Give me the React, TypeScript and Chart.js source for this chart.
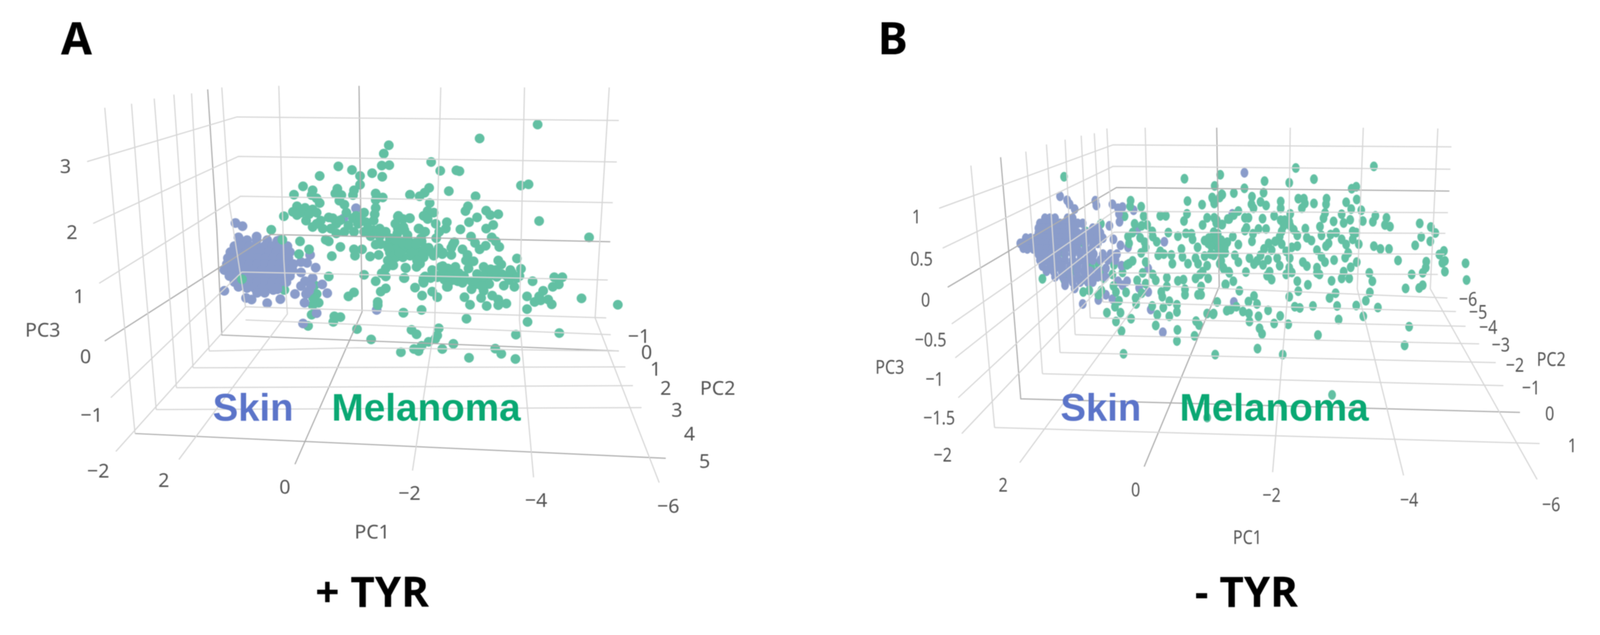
import React, { useEffect, useRef } from "react";
import { Chart, registerables } from "chart.js";

Chart.register(...registerables);

type P = [number, number];

// Panel A, projected view coordinates (view plane 0..1568 on both axes)
const melanomaA: P[] = [
[1056,300],[941,335],[845,394],[863,416],[895,415],[901,417],[1023,453],[1038,450],[1059,542],[1158,583],[1015,636],[1023,662],[1046,693],[1089,683],[1105,683],[1098,701],[1086,707],[1067,717],[1059,731],[1050,745],[1062,741],[1077,739],[1084,751],[1143,736],[1215,752],[1035,731],[1035,763],[1036,795],[1099,823],[1013,827],[915,787],[889,850],[1010,707],[989,704],[972,862],[984,875],[1012,888],[920,885],
[936,675],[945,680],[955,672],[965,678],[975,682],[985,675],[995,680],[1005,672],[1015,685],[1002,665],[978,641],[984,651],[949,657],[963,663],[973,665],[943,693],[932,701],[925,713],[949,717],[944,735],[966,729],[978,739],[994,749],[978,753],[955,755],[922,752],[911,733],
[830,685],[844,685],[857,683],[871,689],[885,691],[898,693],[912,689],[925,693],[830,697],[876,707],[847,665],[864,657],[878,661],[893,657],[867,673],[885,673],[896,677],[813,709],[827,729],[847,719],[857,733],[792,685],[795,660],[790,772],[826,765],[806,815],[816,826],[860,811],[857,829],[840,845],[826,855],[811,863],[785,871],[867,863],[820,868],[853,838],
[841,459],[832,471],[822,480],[803,476],[880,467],[933,480],[918,505],[913,517],[954,516],[962,527],[978,525],[936,533],[920,545],[968,552],[954,561],[903,563],[924,581],[932,597],[941,613],[953,604],[965,583],[973,593],[980,607],[907,613],[917,627],[914,641],[929,643],[919,661],[891,595],[885,609],[885,627],[867,625],[850,629],[842,497],[838,517],[830,529],[850,521],[838,537],[779,531],[789,537],[803,535],[854,549],[876,545],[874,561],[861,569],[855,585],[820,561],[832,569],
[779,561],[792,565],[772,585],[785,593],[799,589],[813,597],[826,593],[840,609],[775,613],[789,613],[803,613],[816,613],[830,617],[775,633],[789,633],[803,629],[816,633],[830,633],[823,649],[816,657],[768,653],
[761,352],[751,373],[747,403],[762,402],[728,422],[748,431],[704,429],[704,451],[688,414],[661,405],[624,429],[591,455],[573,476],[610,465],[608,477],[618,485],[624,497],[659,461],[655,473],[667,477],[663,491],[673,501],[692,465],[690,477],[735,473],[749,483],[735,489],[735,509],[733,525],
[553,530],[528,564],[579,505],[595,509],[610,513],[571,519],[587,521],[603,525],[618,521],[579,527],[597,541],[610,557],[626,541],[642,533],[657,549],[630,561],[646,561],[618,549],[677,521],[696,529],[712,521],[681,553],[700,549],[716,545],[673,569],[692,569],[712,569],[657,573],[642,593],[636,589],[665,607],[648,630],[692,613],[708,613],[694,629],
[731,541],[743,561],[731,565],[755,569],[743,581],[763,585],[735,601],[724,631],[741,627],[780,529],[802,535],[774,549],[790,557],[778,573],[798,577],[821,561],[833,569],[825,585],[759,601],[774,601],[794,605],[813,601],[833,609],[763,621],[782,621],[806,621],[829,625],[817,641],[759,641],[770,653],[755,661],[888,601],[868,621],[852,625],[747,673],[755,681],[735,693],[755,711],[745,719],[794,659],[791,685],[712,677],[642,681],[868,655],[900,673],[833,681],[852,677],[872,681],[895,691],[829,693],[907,697],[878,707],
[739,753],[585,593],[603,613],[583,625],[550,589],[470,688],[681,731],[692,721],[665,783],[653,781],[651,795],[698,813],[726,839],[739,745],[790,772],
[650,535],[665,540],[690,535],[705,535],[720,560],[725,580],[745,600],[760,610],[775,590],[790,600],[800,600],[815,600],[845,620],[860,610],[880,680],[910,680],[950,690],[960,700],[935,690],[945,705],[1000,690],[1020,680]
];
const skinA: P[] = [
[457,547],[471,555],[463,583],[499,581],[435,717],[463,707],[478,735],[489,739],[520,748],[546,738],[575,725],[639,723],[629,701],[616,659],[587,671],[605,627],[599,647],[587,645],[594,747],[618,773],[591,799],[737,765],[696,510],[671,536],[610,685],[595,693],[587,705],[607,705],[597,725],[603,717],[540,713],[532,715],
[465,590],[480,590],[499,590],[520,590],[540,592],[545,590],
[455,605],[470,605],[485,605],[500,605],[515,605],[530,605],[545,605],[560,605],
[447,620],[462,620],[478,620],[493,620],[508,620],[523,620],[538,620],[553,620],[565,620],
[442,635],[457,635],[472,635],[487,635],[502,635],[517,635],[532,635],[547,635],[562,635],
[440,650],[455,650],[470,650],[485,650],[500,650],[515,650],[530,650],[545,650],[560,650],[572,650],
[435,665],[450,665],[465,665],[480,665],[495,665],[510,665],[525,665],[540,665],[555,665],[570,665],
[445,680],[460,680],[475,680],[490,680],[505,680],[520,680],[535,680],[550,680],[565,680],
[455,695],[470,695],[485,695],[500,695],[515,695],[530,695],[545,695],[558,695],
[480,710],[495,710],[510,710],[525,710],[540,710],[500,722],[515,722]
];
const melanomaOverSkinA: P[] = [
[556,637],[554,715],[614,703],[618,725],[622,747],[610,753],[608,777],[601,805],[611,735]
];

// Panel B, same kind of view coordinates
const melanomaB: P[] = [
[1128,405],[973,409],[823,426],[1009,437],[911,442],[960,446],[812,454],[871,460],[1093,456],[1084,461],[909,471],[850,472],[826,475],[822,483],[886,481],[885,500],[889,510],[808,486],[811,498],[903,494],[914,503],[943,493],[943,510],[978,486],[989,486],[991,498],[985,510],[1009,498],[1034,486],[1033,500],[1073,495],[1094,488],[1083,512],[1103,515],[962,524],[1031,522],[1028,535],[1064,525],[859,517],[850,527],[841,537],[872,534],[879,534],[907,536],[930,529],[943,540],[951,540],[960,544],[949,554],[945,568],[962,554],[969,564],[976,578],[941,581],[932,593],[945,600],[1048,543],[1081,539],[1068,547],[1106,542],[1131,529],[1126,544],[1153,534],[1150,552],[1160,556],[1219,548],[1241,557],[1250,572],[1222,582],[1240,593],[1210,603],[1267,617],[1258,626],[1269,642],[1264,647],[1269,669],[1310,648],[1312,690],[1232,644],[1231,659],[1225,672],[1203,676],[1191,711],[1225,703],[1218,710],[1176,641],[1158,612],[1128,605],[1141,612],
[815,547],[826,551],[811,534],[875,559],[872,566],[899,562],[914,562],[888,574],[886,593],[815,581],[808,595],[822,598],[815,605],[837,595],[848,581],[859,601],[830,611],[833,622],[804,625],[810,628],[852,628],[859,645],[881,635],[890,650],[910,612],[919,598],[925,615],[903,628],[918,639],[908,652],[896,642],[936,635],[941,654],[965,608],[976,605],[954,618],[961,635],[960,659],[954,676],[965,671],[992,561],[995,584],[1004,591],[1021,556],[1024,578],[1042,576],[1053,571],[1064,588],[1073,601],[1038,598],[1033,605],[1015,615],[1024,632],[1031,645],[1086,568],[1093,571],[1086,588],[1098,600],[1077,622],[1071,634],[1049,640],[1094,645],[1082,658],[987,645],[995,655],[1015,659],[1015,672],[1020,676],[1068,669],[1064,686],[1079,686],[1119,672],[1125,693],[1044,692],[976,693],[997,702],[978,718],[960,732],[1052,723],[1040,735],[1120,721],[1112,742],[1136,759],[1093,754],[1055,755],[1007,755],[971,757],[981,760],[1107,781],[1058,789],[1017,828],[1198,807],[1189,854],[918,766],[942,780],[930,799],[958,801],[901,811],[906,825],[897,862],[890,730],[896,750],[899,781],[879,744],[880,774],[881,794],[868,769],[855,757],[844,764],[836,767],[817,745],[809,776],[861,717],[833,701],[849,693],[874,670],[921,669],[916,679],[925,689],[822,649],[830,662],[841,672],[797,1035],[1045,978],[947,877],[813,877],
[513,431],[752,436],[645,491],[644,505],[666,506],[671,530],[758,492],[787,501],[807,483],[812,496],[827,476],[704,529],[715,529],[757,524],[751,542],[797,534],[788,552],[816,540],[827,551],[838,537],[653,549],[667,554],[678,552],[688,568],[689,581],[720,571],[739,580],[755,573],[766,574],[768,588],[649,571],[640,581],[642,598],[664,584],[697,594],[673,595],[675,608],[666,622],[704,618],[700,628],[711,625],[746,612],[726,627],[778,608],[792,591],[807,584],[818,574],[799,598],[818,598],[832,608],[792,630],[748,632],[759,649],[774,635],[779,649],[728,649],[797,654],[788,669],[774,686],[783,676],[799,686],[825,642],[829,659],[840,669],[649,642],[638,652],[675,645],[669,672],[689,676],[675,699],[695,691],[658,691],[717,684],[739,692],[750,689],[717,706],[706,720],[708,732],[753,713],[753,727],[785,706],[785,727],[779,727],[834,701],[797,774],[810,774],[838,765],[722,743],[737,752],[737,770],[710,759],[688,755],[698,777],[722,781],[695,804],[738,815],[772,830],[737,843],[775,793],[781,803],[631,875],[667,723],[655,735],[656,750],[646,787],[627,818],[616,794],[598,772],[625,772],[636,721],[622,742],[614,757],[611,705],[616,720],[581,727],[587,716],[551,720],[563,716],[470,687],
[810,570],[800,585],[815,590],[825,590],[805,605],[820,612],[825,625]
];
const skinB: P[] = [
[871,421],[850,745],[847,524],[505,480],[519,490],[524,500],[534,512],[575,491],[577,503],[609,500],[620,510],[629,507],[623,544],[622,524],[651,515],[603,554],[658,564],[712,594],[680,661],[662,710],[680,720],[685,764],[709,821],[550,750],[596,661],[627,654],[640,608],[625,603],[611,588],[534,711],[581,740],[596,727],[609,738],[629,703],[638,693],[620,693],
[475,535],[485,535],[495,535],[520,535],[530,535],
[465,548],[475,548],[485,548],[495,548],[505,548],[515,548],[525,548],[540,548],[550,548],
[462,560],[472,560],[482,560],[492,560],[502,560],[512,560],[522,560],[532,560],[570,560],[580,560],
[462,572],[472,572],[482,572],[492,572],[502,572],[512,572],[525,572],[540,572],[552,572],[562,572],[575,572],[585,572],
[437,585],[447,585],[457,585],[467,585],[477,585],[487,585],[497,585],[507,585],[517,585],[527,585],[537,585],[550,585],[565,585],[578,585],[590,585],
[426,598],[430,598],[440,598],[450,598],[460,598],[470,598],[480,598],[490,598],[500,598],[510,598],[520,598],[530,598],[540,598],[555,598],[570,598],[580,598],
[432,610],[440,612],[452,612],[465,612],[478,612],[490,612],[502,612],[515,612],[528,612],[540,612],[555,612],[568,612],
[462,625],[475,625],[488,625],[500,625],[515,625],[530,625],[545,625],[560,625],[572,625],[590,625],[605,625],[618,625],
[465,640],[478,640],[490,640],[502,640],[515,640],[530,640],[545,640],[558,640],[570,640],[585,640],[600,640],[615,640],
[470,655],[485,655],[498,655],[510,655],[525,655],[540,655],[555,655],
[478,668],[492,668],[508,668],[522,668],[538,668],[552,668],[565,668],[580,668],
[495,682],[510,682],[525,682],[540,682],[555,682],[568,682],[580,682],[595,682],
[515,695],[530,695],[545,695],[560,695],[570,695],[515,703]
];
const melanomaOverSkinB: P[] = [
[586,549],[633,530],[530,570],[556,568],[568,579],[518,593],[551,596],[513,623],[557,644],[567,659],[581,650],[495,659],[512,674],[513,689],[530,661],[537,669],[552,688],[590,669],[592,686],[612,652],[609,676],[629,671],[642,649]
];

// Box grid of the 3D scene as seen in each panel
const gridLightA: P[][] = [
[[163,393],[460,281],[1217,290]],[[175,548],[463,380],[1213,394]],[[187,698],[467,480],[1205,496]],[[210,985],[470,670],[1195,690]],[[220,1120],[477,757],[1192,785]],
[[373,910],[1230,908]],[[340,960],[1245,955]],[[300,1015],[1262,1010]],
[[477,790],[1201,827]],[[405,868],[700,860],[1217,868]],
[[198,258],[228,690],[258,1075]],[[251,248],[275,650],[300,1015]],[[296,235],[320,620],[340,960]],[[335,225],[355,600],[373,910]],[[370,222],[385,580],[405,868]],[[430,207],[445,500],[477,757]],
[[543,203],[553,640],[560,775],[345,1140]],[[864,207],[852,800],[808,1168]],[[1030,207],[1020,790],[1048,1185]],[[1198,207],[1170,785],[1297,1198]]
];
const gridDarkA: P[][] = [
[[198,843],[527,576],[1200,594]],[[402,212],[420,560],[430,828],[1217,868]],[[702,203],[708,770],[575,1152]],[[258,1075],[1310,1137]]
];
const gridLightB: P[][] = [
[[265,510],[610,351],[1282,356]],[[272,610],[610,405],[1280,412]],[[290,800],[612,518],[1275,521]],[[297,885],[612,570],[1270,573]],[[303,985],[612,622],[1268,625]],[[310,1075],[612,672],[1255,676]],
[[605,700],[1274,735]],[[590,745],[1291,769]],[[565,785],[1310,806]],[[535,827],[1337,850]],[[505,872],[1370,897]],[[470,925],[1385,955]],[[375,1060],[1457,1100]],
[[328,403],[352,730],[375,1060]],[[437,368],[455,650],[470,925]],[[478,350],[492,610],[505,872]],[[515,338],[525,590],[535,827]],[[547,328],[556,560],[565,785]],[[573,322],[582,530],[590,745]],[[598,310],[605,500],[612,700]],
[[674,308],[682,706],[425,1148]],[[962,308],[958,710],[927,1172]],[[1107,308],[1095,712],[1187,1180]],[[1255,310],[1240,712],[1452,1190]]
];
const gridDarkB: P[][] = [
[[282,708],[617,458],[1278,467]],[[387,382],[408,690],[427,988],[1418,1022]],[[816,308],[821,706],[672,1158]]
];

// Tick and title texts: [text, view x, view y]
type L = [string, number, number];
const ticksA: L[] = [
["3",120,408],["2",133,573],["1",147,734],["0",160,885],["−1",172,1032],["−2",185,1172],["PC3",75,818],
["2",315,1195],["0",555,1212],["−2",802,1227],["−4",1053,1245],["−6",1315,1260],["PC1",728,1324],
["−1",1257,834],["0",1272,874],["1",1290,916],["2",1310,964],["3",1332,1019],["4",1357,1079],["5",1387,1147],["PC2",1413,964]
];
const ticksB: L[] = [
["1",220,534],["0.5",230,640],["0",238,743],["−0.5",248,843],["−1",256,941],["−1.5",265,1038],["−2",272,1131],["PC3",167,911],
["2",392,1207],["0",655,1219],["−2",925,1232],["−4",1198,1244],["−6",1480,1256],["PC1",877,1338],
["−6",1315,741],["−5",1335,773],["−4",1355,811],["−3",1380,855],["−2",1408,906],["−1",1440,963],["0",1477,1028],["1",1522,1108],["PC2",1480,891]
];

const GREEN = "#62c0a3";
const BLUE = "#8a9cca";

function dot(rx: number, ry: number, color: string) {
  const c = document.createElement("canvas");
  c.width = Math.ceil(rx * 2) + 2;
  c.height = Math.ceil(ry * 2) + 2;
  const g = c.getContext("2d")!;
  g.fillStyle = color;
  g.beginPath();
  g.ellipse(c.width / 2, c.height / 2, rx, ry, 0, 0, Math.PI * 2);
  g.fill();
  return c;
}
const xy = (a: P[]) => a.map(([x, y]) => ({ x, y }));

type Panel = {
  melanoma: P[]; skin: P[]; over: P[]; light: P[][]; dark: P[][]; ticks: L[];
  rx: number; ry: number; tickStretch: number;
  letter: L; caption: L; skinAt: L; melAt: L;
};

const panelA: Panel = {
  melanoma: melanomaA, skin: skinA, over: melanomaOverSkinA, light: gridLightA, dark: gridDarkA, ticks: ticksA,
  rx: 12.5, ry: 12.5, tickStretch: 1,
  letter: ["A", 142, 92], caption: ["+ TYR", 728, 1480], skinAt: ["Skin", 492, 1016], melAt: ["Melanoma", 835, 1016],
};
const panelB: Panel = {
  melanoma: melanomaB, skin: skinB, over: melanomaOverSkinB, light: gridLightB, dark: gridDarkB, ticks: ticksB,
  rx: 10, ry: 12.5, tickStretch: 0.82,
  letter: ["B", 173, 92], caption: ["- TYR", 875, 1480], skinAt: ["Skin", 586, 1016], melAt: ["Melanoma", 930, 1016],
};

function PanelChart({ panel, width }: { panel: Panel; width: number }) {
  const ref = useRef<HTMLCanvasElement>(null);
  useEffect(() => {
    document.body.style.margin = "0";
    const lineSet = (pts: P[], color: string, w: number) => ({
      type: "line" as const, data: xy(pts), borderColor: color, borderWidth: w,
      pointRadius: 0, showLine: true, fill: false, tension: 0,
    });
    const pointSet = (pts: P[], color: string) => ({
      type: "scatter" as const, data: xy(pts), backgroundColor: color, borderWidth: 0,
      pointStyle: dot(panel.rx, panel.ry, color), pointRadius: panel.ry,
    });
    const textPlugin = {
      id: "panelText",
      afterDatasetsDraw(chart: any) {
        const { ctx, scales } = chart;
        const put = (l: L, font: string, color: string, stretch = 1) => {
          ctx.save();
          ctx.translate(scales.x.getPixelForValue(l[1]), scales.y.getPixelForValue(l[2]));
          ctx.scale(stretch, 1);
          ctx.font = font;
          ctx.fillStyle = color;
          ctx.textAlign = "center";
          ctx.textBaseline = "middle";
          ctx.fillText(l[0], 0, 0);
          ctx.restore();
        };
        panel.ticks.forEach((t) => put(t, '50px "Noto Sans"', "#555555", panel.tickStretch));
        put(panel.skinAt, 'bold 98px "Liberation Sans"', "#5b74c9");
        put(panel.melAt, 'bold 99px "Liberation Sans"', "#0aa873");
        put(panel.letter, 'bold 115px "Noto Sans"', "#000000");
        put(panel.caption, 'bold 108px "Open Sans"', "#000000");
      },
    };
    const chart = new Chart(ref.current!, {
      type: "scatter",
      data: {
        datasets: [
          ...panel.light.map((l) => lineSet(l, "#d6d6d6", 3)),
          ...panel.dark.map((l) => lineSet(l, "#adadad", 3)),
          pointSet(panel.melanoma, GREEN),
          pointSet(panel.skin, BLUE),
          pointSet(panel.over, GREEN),
        ] as any,
      },
      options: {
        responsive: false,
        animation: false,
        devicePixelRatio: 1,
        layout: { padding: 0 },
        plugins: { legend: { display: false }, tooltip: { enabled: false } },
        scales: {
          x: { type: "linear", min: 0, max: 1568, display: false },
          y: { type: "linear", min: 0, max: 1568, reverse: true, display: false },
        },
      },
      plugins: [textPlugin],
    });
    return () => chart.destroy();
  }, [panel]);
  return (
    <canvas
      ref={ref}
      width={width}
      height={1626}
      style={{ display: "block", width, height: 1626, filter: "blur(1.2px)" }}
    />
  );
}

export default function App() {
  return (
    <div style={{ display: "flex", width: 4097, height: 1626, background: "#fff", overflow: "hidden" }}>
      <PanelChart panel={panelA} width={2050} />
      <PanelChart panel={panelB} width={2047} />
    </div>
  );
}
